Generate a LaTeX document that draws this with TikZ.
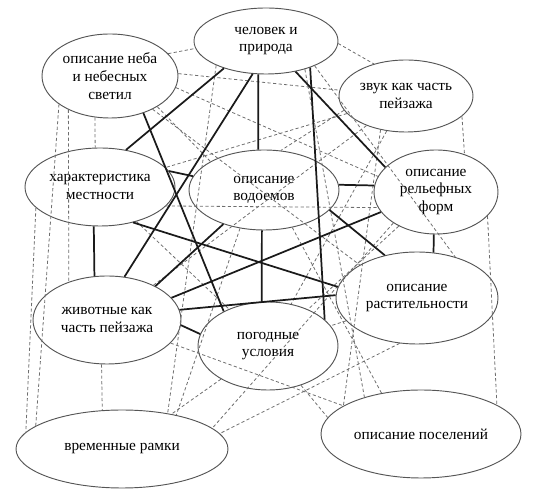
\documentclass[tikz,border=0pt]{standalone}
\usepackage{fontspec}
\setmainfont{Liberation Serif}
\usepackage{tikz}
\usetikzlibrary{shapes.geometric}
\definecolor{rim}{HTML}{555555}
\definecolor{strong}{HTML}{1A1A1A}
\definecolor{weak}{HTML}{6E6E6E}
\tikzset{
  topic/.style={
    ellipse, draw=rim, line width=0.7pt, inner sep=0pt, align=center,
    font=\fontsize{11.5}{13.2}\selectfont
  },
  link/.style={strong, line width=1.3pt},
  weaklink/.style={weak, line width=0.6pt, dash pattern=on 2.4pt off 1.8pt},
}

\begin{document}
\begin{tikzpicture}[x=0.75pt, y=-0.75pt]
    \useasboundingbox (0,0) rectangle (536,498);
    \node[topic, minimum width=102pt, minimum height=63pt] (sky) at (110,76) {описание неба\\и небесных\\светил};
    \node[topic, minimum width=108pt, minimum height=49.5pt] (man) at (266,41) {человек и\\природа};
    \node[topic, minimum width=100.5pt, minimum height=54pt] (sound) at (406,96) {звук как часть\\пейзажа};
    \node[topic, minimum width=112.5pt, minimum height=58.5pt] (area) at (100,187) {характеристика\\местности};
    \node[topic, minimum width=112.5pt, minimum height=60pt] (water) at (264,190) {описание\\водоемов};
    \node[topic, minimum width=93pt, minimum height=63pt] (relief) at (436,192) {описание\\рельефных\\форм};
    \node[topic, minimum width=111pt, minimum height=66pt] (fauna) at (107,320) {животные как\\часть пейзажа};
    \node[topic, minimum width=121.5pt, minimum height=69pt] (flora) at (417,298) {описание\\растительности};
    \node[topic, minimum width=105pt, minimum height=66pt] (weather) at (268,346) {погодные\\условия};
    \node[topic, minimum width=159pt, minimum height=58.5pt] (time) at (122,449) {временные рамки};
    \node[topic, minimum width=150pt, minimum height=66pt] (towns) at (421,434) {описание поселений};
    % weak links
    \foreach \a/\b in {sky.21/man.186, sky.2/sound.175, sky.250/area.97,
        sky.327/water.152, sky.350/relief.165, sky.219/fauna.135,
        sky.209/time.165, sky.322/flora.150, man.358/sound.135,
        man.206/time.38, man.324/towns.147, man.333/flora.47,
        sound.193/water.67, sound.340/relief.53, sound/area, sound/fauna,
        sound/weather, sound.233/towns.160, area.344/relief.195,
        area.198/time.170, area/weather, water.238/time.32,
        water.307/towns.134, relief.335/towns.21, relief.216/time.13,
        relief/weather, fauna.263/time.117, fauna/towns, flora.249/time.9,
        flora/weather, weather/time, weather.310/towns.170}
      \draw[weaklink] (\a) -- (\b);
    % strong links
    \draw[link] (man.213) -- (area.55);
    \draw[link] (man.248) -- (fauna.68);
    \draw[link] (man.257) -- (water.98);
    \draw[link] (man.314) -- (relief.154);
    \draw[link] (man.329) -- (weather.25);
    \draw[link] (sky.312) -- (weather.142);
    \draw[link] (area.13) -- (water.169);
    \draw[link] (area.313) -- (flora.172);
    \draw[link] (area.261) -- (fauna.106);
    \draw[link] (water.4) -- (relief.174);
    \draw[link] (water.220) -- (fauna.35);
    \draw[link] (water.267) -- (weather.98);
    \draw[link] (water.343) -- (flora.127);
    \draw[link] (relief.200) -- (fauna.19);
    \draw[link] (relief.267) -- (flora.70);
    \draw[link] (fauna.8) -- (flora.178);
    \draw[link] (fauna.356) -- (weather.170);
\end{tikzpicture}
\end{document}
